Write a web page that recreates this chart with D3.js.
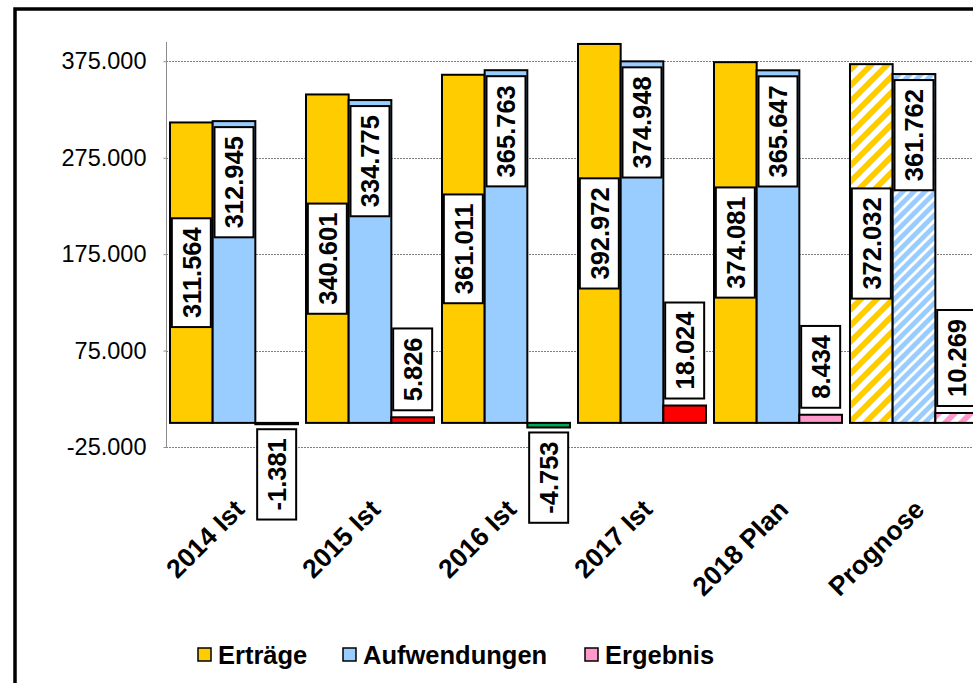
<!DOCTYPE html>
<html>
<head>
<meta charset="utf-8">
<script src="https://cdn.jsdelivr.net/npm/d3@7"></script>
<style>
    body { margin: 0; background: #fff; }
    svg { display: block; font-family: 'Liberation Sans', Arial, sans-serif; }
</style>
</head>
<body>
<svg id="chart"></svg>
<script>
// values in EUR, shown in German number format
const categories = ['2014 Ist', '2015 Ist', '2016 Ist', '2017 Ist', '2018 Plan', 'Prognose']
const ertraege = [311564, 340601, 361011, 392972, 374081, 372032]
const aufwendungen = [312945, 334775, 365763, 374948, 365647, 361762]
const ergebnis = [-1381, 5826, -4753, 18024, 8434, 10269]
const yTicks = [-25000, 75000, 175000, 275000, 375000]
const seriesNames = ['Erträge', 'Aufwendungen', 'Ergebnis']

const width = 973
const height = 683

const de = d3.formatLocale({ decimal: ',', thousands: '.', grouping: [3], currency: ['', ' €'], minus: '-' })
const fmt = de.format(',.0f')

const svg = d3
    .select('#chart')
    .attr('width', width)
    .attr('height', height)

// hatch patterns for the forecast column
const defs = svg.append('defs')
function hatch(id, color, size, lineWidth) {
    const p = defs
        .append('pattern')
        .attr('id', id)
        .attr('patternUnits', 'userSpaceOnUse')
        .attr('width', size)
        .attr('height', size)
    p.append('rect').attr('width', size).attr('height', size).attr('fill', color)
    p.append('path')
        .attr('d', `M${-size / 2},${size / 2} L${size / 2},${-size / 2} M0,${size} L${size},0 M${size / 2},${size * 1.5} L${size * 1.5},${size / 2}`)
        .attr('stroke', '#fff')
        .attr('stroke-width', lineWidth)
}
hatch('hatch-yellow', '#ffcc00', 16, 5.5)
hatch('hatch-blue', '#99ccff', 11, 3)
hatch('hatch-pink', '#ff99cc', 16, 5.5)

const y = d3.scaleLinear().domain([-25000, 395000]).range([447, 42])

const x0 = d3
    .scaleBand()
    .domain(categories)
    .range([166, 982])
    .paddingInner(0.0588)
    .paddingOuter(0.0294)

const x1 = d3.scaleBand().domain(seriesNames).range([0, x0.bandwidth()])

// gridlines
svg.append('g')
    .selectAll('line')
    .data(yTicks)
    .enter()
    .append('line')
    .attr('x1', 166)
    .attr('x2', width)
    .attr('y1', (d) => Math.round(y(d)) + 0.5)
    .attr('y2', (d) => Math.round(y(d)) + 0.5)
    .attr('stroke', '#7f7f7f')
    .attr('stroke-width', 1)
    .attr('stroke-dasharray', '2,1')

// y axis
const yAxis = svg
    .append('g')
    .attr('transform', 'translate(166.5,0)')
    .call(d3.axisLeft(y).tickValues(yTicks).tickFormat(fmt).tickSize(3).tickSizeOuter(0))
yAxis.select('.domain').attr('stroke', '#8c8c8c').attr('d', 'M0,42V448')
yAxis.selectAll('.tick line').attr('stroke', '#8c8c8c')
yAxis.selectAll('.tick text')
    .attr('x', -20)
    .attr('fill', '#000')
    .style('font-size', '23.5px')
    .style('font-family', "'Liberation Sans', Arial, sans-serif")

function fillFor(series, cat, v) {
    const forecast = cat === 'Prognose'
    if (series === 'Erträge') return forecast ? 'url(#hatch-yellow)' : '#ffcc00'
    if (series === 'Aufwendungen') return forecast ? 'url(#hatch-blue)' : '#99ccff'
    if (forecast) return 'url(#hatch-pink)'
    if (cat.indexOf('Plan') >= 0) return '#ff99cc'
    return v < 0 ? '#00a651' : '#ff0000'
}

const rows = []
categories.forEach((c, i) => {
    rows.push({ cat: c, series: 'Erträge', value: ertraege[i] })
    rows.push({ cat: c, series: 'Aufwendungen', value: aufwendungen[i] })
    rows.push({ cat: c, series: 'Ergebnis', value: ergebnis[i] })
})

svg.append('g')
    .selectAll('rect')
    .data(rows)
    .enter()
    .append('rect')
    .attr('x', (d) => x0(d.cat) + x1(d.series))
    .attr('y', (d) => Math.min(y(d.value), y(0)))
    .attr('width', x1.bandwidth())
    .attr('height', (d) => Math.abs(y(d.value) - y(0)))
    .attr('fill', (d) => fillFor(d.series, d.cat, d.value))
    .attr('stroke', '#000')
    .attr('stroke-width', 2)

// data labels in white boxes, rotated
const labels = svg
    .append('g')
    .selectAll('g')
    .data(rows)
    .enter()
    .append('g')

labels.append('rect')
labels.append('text')
    .attr('text-anchor', 'middle')
    .attr('dy', '0.36em')
    .style('font-size', '25.5px')
    .style('font-weight', 'bold')
    .text((d) => fmt(d.value))

labels.each(function (d) {
    const g = d3.select(this)
    const len = g.select('text').node().getComputedTextLength()
    const boxH = len + 18
    const boxW = 39
    const cx = x0(d.cat) + x1(d.series) + x1.bandwidth() / 2
    let cy
    if (d.series === 'Erträge') cy = (y(d.value) + y(0)) / 2
    else if (d.series === 'Aufwendungen') cy = y(d.value) + 6 + boxH / 2
    else if (d.value >= 0) cy = y(d.value) - 7 - boxH / 2
    else cy = y(d.value) + 5 + boxH / 2
    g.attr('transform', `translate(${cx},${cy}) rotate(-90)`)
    g.select('rect')
        .attr('x', -boxH / 2)
        .attr('y', -boxW / 2)
        .attr('width', boxH)
        .attr('height', boxW)
        .attr('fill', '#fff')
        .attr('stroke', '#000')
        .attr('stroke-width', 2)
})

// category labels
svg.append('g')
    .selectAll('text')
    .data(categories)
    .enter()
    .append('text')
    .attr('transform', (d) => `translate(${x0(d) + x0.bandwidth() / 2 + 12},511) rotate(-45)`)
    .attr('text-anchor', 'end')
    .style('font-size', '26.5px')
    .style('font-weight', 'bold')
    .text((d) => d)

// legend
const legendX = [198, 343, 585]
const legendFill = ['#ffcc00', '#99ccff', '#ff99cc']
const legend = svg
    .append('g')
    .selectAll('g')
    .data(seriesNames)
    .enter()
    .append('g')
    .attr('transform', (d, i) => `translate(${legendX[i]},648)`)

legend.append('rect')
    .attr('width', 13)
    .attr('height', 13)
    .attr('fill', (d, i) => legendFill[i])
    .attr('stroke', '#000')
    .attr('stroke-width', 1.5)

legend.append('text')
    .attr('x', 20)
    .attr('y', 15.5)
    .style('font-size', '25.5px')
    .style('font-weight', 'bold')
    .text((d) => d)

// chart frame
svg.append('rect')
    .attr('x', 15)
    .attr('y', 9)
    .attr('width', 1000)
    .attr('height', 700)
    .attr('fill', 'none')
    .attr('stroke', '#000')
    .attr('stroke-width', 3.5)
</script>
</body>
</html>
